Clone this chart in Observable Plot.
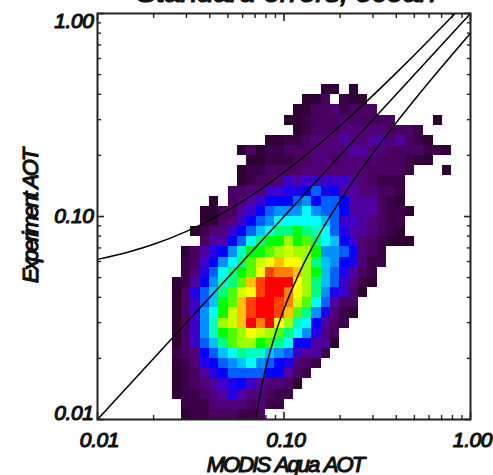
<!DOCTYPE html>
<html>
<head>
<meta charset="utf-8">
<style>html,body{margin:0;padding:0;background:#fff}</style>
<script src="https://cdn.jsdelivr.net/npm/d3@7"></script>
<script src="https://cdn.jsdelivr.net/npm/@observablehq/plot@0.6"></script>
</head>
<body>
<div id="chart"></div>
<script>
const titleText = "Standard errors, ocean";
const xLabel = "MODIS Aqua AOT";
const yLabel = "Experiment AOT";
const majorTicks = [0.01, 0.1, 1];
const minorTicks = [0.02,0.03,0.04,0.05,0.06,0.07,0.08,0.09,0.2,0.3,0.4,0.5,0.6,0.7,0.8,0.9];

// Bin edges: 20 bins per decade, first bin of rows starts at firstColumn
const binsPerDecade = 20;
const firstColumn = 8;
// Density level per cell, bottom row first ('.' = empty)
const densityRows = [
".abbcccbbc.....",
".bbbddddcdbb...",
"abbcdegeddcbb..",
"abcdefghfeddca.",
"abceghiiiihhecb",
"abdghijkljihgdcb",
"bcdhiklnmmkjifeeb",
"acfiknpqqopnlhheea",
"acfjmopqsrqpnljgdc",
"acfjmqrtwuwsqmlhecb",
"acfjlortvwwvtpnjgdba",
"acfikoptvwwvurpliecc",
"acgiknprsvwwusqnjgfca",
"abehjmnptvwwwsqnkifdba........",
".bdgilnopsvuutqokigecb........",
".bcfhjlnprstssqnkjhgdbb.......",
".aceghjmoopqrqqojjihdcb.......",
"...ceehilnooqopnlkhfdcbaaa....",
"..abddfhiklnnonmligeedcba.....",
"...aacdfhijlllllkiffedcbb.....",
"...aaccefhijjjljiiheeecbba....",
"....a.cdefhhhijhiiheeecba.....",
"......ccddffgghigheeddccb.....",
".......abccdfefffffedcbbb.....",
".......abbccccdddddddccccb...a",
"........aabbbccddcddddcccbaa..",
".......acabbcccddddeeddccccbba",
"..........aabbcdddeddeedecba..",
".............abcccdddddcccb...",
"............aabcccdccccc....a.",
".............aaccdbccc........",
"..............aac.baa.........",
"................aa.a.........."
];
const levelNames = "abcdefghijklmnopqrstuvw".split("");
const levelColors = ["#2e0033","#3c0048","#4a0060","#520078","#5000a0","#3c00c8","#2000e8","#0000ff","#0060ff","#0090ff","#00c0ff","#00ffff","#00ffc0","#00ff80","#00ff00","#50ff00","#a0ff00","#d0ff00","#ffff00","#ffc000","#ff8000","#ff4000","#ff0000"];

// Reference curves, values
const curveUpperX = [0.01,0.015,0.02,0.03,0.04,0.05,0.07,0.1,0.15,0.2,0.3,0.4,0.5,0.7,0.826];
const curveUpperY = [0.0615,0.0673,0.073,0.0845,0.096,0.1075,0.1305,0.165,0.2225,0.28,0.395,0.51,0.625,0.855,1];
const curveMiddleX = [0.01,1];
const curveMiddleY = [0.01,1];
const curveLowerX = [0.0706,0.075,0.08,0.09,0.1,0.12,0.15,0.2,0.3,0.4,0.5,0.7,1];
const curveLowerY = [0.01,0.0138,0.018,0.0265,0.035,0.052,0.0775,0.12,0.205,0.29,0.375,0.545,0.8];

const edge = k => Math.pow(10, -2 + k / binsPerDecade);
const cells = [];
densityRows.forEach((row, j) => row.split("").forEach((c, k) => {
  if (c !== ".") cells.push({x1: edge(firstColumn + k), x2: edge(firstColumn + k + 1), y1: edge(j), y2: edge(j + 1), level: c});
}));
const toPts = (xs, ys) => xs.map((x, i) => ({x, y: ys[i]}));

const tickColor = "#222";
const lineOpts = {x: "x", y: "y", stroke: "#000", strokeWidth: 1.5, curve: "monotone-x"};

const marks = [
  Plot.rect(cells, {x1: "x1", x2: "x2", y1: "y1", y2: "y2", fill: "level", shapeRendering: "crispEdges"}),
  Plot.line(toPts(curveUpperX, curveUpperY), lineOpts),
  Plot.line(toPts(curveMiddleX, curveMiddleY), {...lineOpts, curve: "linear"}),
  Plot.line(toPts(curveLowerX, curveLowerY), lineOpts)
];

for (const [anchor, mk] of [["bottom", Plot.axisX], ["top", Plot.axisX], ["left", Plot.axisY], ["right", Plot.axisY]]) {
  marks.push(mk(majorTicks, {anchor, tickSize: -7, strokeWidth: 1.6, stroke: tickColor, tickFormat: () => "", label: null}));
  marks.push(mk(minorTicks, {anchor, tickSize: -4, strokeWidth: 1.4, stroke: tickColor, tickFormat: () => "", label: null}));
}
marks.push(Plot.frame({stroke: tickColor, strokeWidth: 2}));

const spaced = (px, word = 0) => (index, scales, values, dims, ctx, next) => {
  const g = next(index, scales, values, dims, ctx);
  g.style.letterSpacing = px + "px";
  g.style.wordSpacing = word + "px";
  return g;
};
const big = {fontFamily: "'Liberation Sans', Arial, sans-serif", fontStyle: "italic", fontWeight: "normal", fill: "#111", stroke: "#111", strokeWidth: 1.2, fontSize: 21};
const fmt = d => d3.format(".2f")(d);
// x tick labels
marks.push(Plot.text(majorTicks, {...big, x: d => d, frameAnchor: "bottom", dy: 21, dx: 2, text: fmt, textAnchor: "middle", lineAnchor: "middle", render: spaced(-0.4)}));
// y tick labels
for (const [v, lineAnchor] of [[1, "top"], [0.1, "middle"], [0.01, "bottom"]]) {
  marks.push(Plot.text([v], {...big, y: d => d, frameAnchor: "left", dx: -4, text: fmt, textAnchor: "end", lineAnchor, render: spaced(-0.4)}));
}
// labels
marks.push(Plot.text([xLabel], {...big, fontSize: 22, frameAnchor: "bottom", dy: 45, text: d => d, lineAnchor: "middle", textAnchor: "middle", dx: 1, render: spaced(-1.9, 2)}));
marks.push(Plot.text([yLabel], {...big, fontSize: 22, frameAnchor: "left", dx: -67, rotate: -90, text: d => d, lineAnchor: "middle", textAnchor: "middle", render: spaced(-2.2, 2)}));
marks.push(Plot.text([titleText], {...big, fontSize: 31, frameAnchor: "top", dy: -11.5, dx: 2, text: d => d, lineAnchor: "bottom", textAnchor: "middle", render: spaced(-0.8)}));

const plot = Plot.plot({
  width: 493, height: 475,
  marginLeft: 97, marginRight: 23, marginTop: 13, marginBottom: 56,
  x: {type: "log", domain: [0.01, 1], axis: null},
  y: {type: "log", domain: [0.01, 1], axis: null},
  color: {type: "ordinal", domain: levelNames, range: levelColors},
  marks
});
plot.style.overflow = "hidden";
document.getElementById("chart").append(plot);
</script>
</body>
</html>
